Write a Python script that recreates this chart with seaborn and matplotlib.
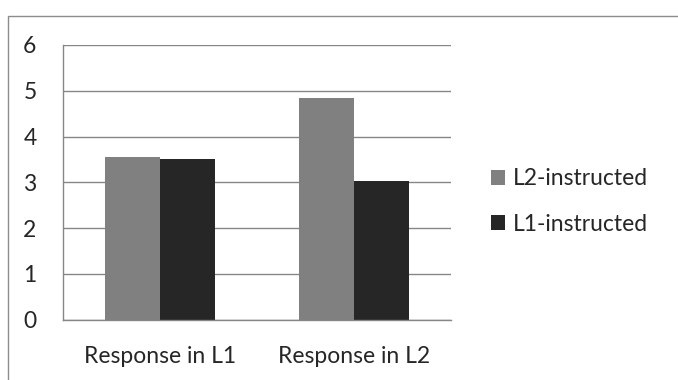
import pandas as pd
import matplotlib.pyplot as plt
import seaborn as sns
from matplotlib.patches import Rectangle

# values
categories = ['Response in L1', 'Response in L2']
l2_instructed = [3.55, 4.84]
l1_instructed = [3.50, 3.03]
groups = ['L2-instructed', 'L1-instructed']

df = pd.DataFrame({
    'category': categories * 2,
    'group': [groups[0]] * 2 + [groups[1]] * 2,
    'value': l2_instructed + l1_instructed,
})

sns.set_style('white')
plt.rcParams['font.family'] = ['Lato', 'DejaVu Sans']

grid_col = '#868686'
fig = plt.figure(figsize=(6.78, 3.8), dpi=100)
ax = fig.add_axes([0.0929, 0.159, 0.572, 0.7226])

sns.barplot(
    data=df, x='category', y='value', hue='group',
    palette=['#808080', '#262626'], width=0.57,
    edgecolor='none', saturation=1, ax=ax
)

ax.set_xlim(-0.5, 1.5)
ax.set_ylim(0, 6)
ax.set_yticks(range(0, 7))
ax.yaxis.grid(True, color=grid_col, linewidth=1)
ax.set_axisbelow(True)
ax.set_xlabel('')
ax.set_ylabel('')

for side in ['top', 'right']:
    ax.spines[side].set_visible(False)
for side in ['left', 'bottom']:
    ax.spines[side].set_color(grid_col)
    ax.spines[side].set_linewidth(1)

ax.tick_params(axis='y', length=5, color=grid_col, width=1, labelsize=16.5, pad=14)
ax.tick_params(axis='x', which='major', length=0, labelsize=16.5, pad=19)
ax.set_xticks([-0.5, 0.5, 1.5], minor=True)
ax.tick_params(axis='x', which='minor', length=5, color=grid_col, width=1)

leg = ax.legend(
    loc='center left', bbox_to_anchor=(1.08, 0.43), frameon=False,
    fontsize=16.5, handlelength=0.6, handleheight=0.6, handletextpad=0.35,
    labelspacing=1.05, borderaxespad=0
)

# outer chart border
fig.patches.append(Rectangle((8 / 678, -0.1), 1.0, 1.1 - 16 / 380,
                             transform=fig.transFigure, fill=False,
                             edgecolor='#8c8c8c', linewidth=1))

plt.savefig('out.png', dpi=100)
